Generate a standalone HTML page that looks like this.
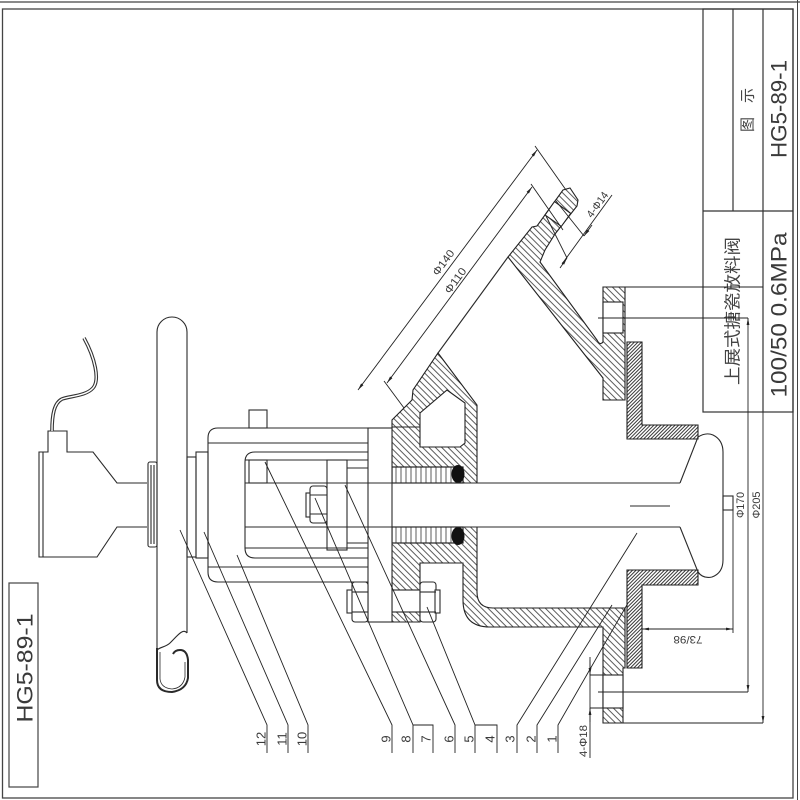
<!DOCTYPE html>
<html><head><meta charset="utf-8"><style>
html,body{margin:0;padding:0;background:#fff;}
svg{display:block}
text{font-family:"DejaVu Sans ExtraLight","Liberation Sans","Noto Sans CJK SC",sans-serif;fill:#3a3a3a}
.cjk{font-family:"Liberation Sans","Noto Sans CJK SC",sans-serif;fill:#444}
</style></head><body>
<svg width="800" height="800" viewBox="0 0 800 800" xmlns="http://www.w3.org/2000/svg">
<defs>
<pattern id="h" width="4.5" height="4.5" patternUnits="userSpaceOnUse" patternTransform="rotate(-45)"><line x1="0.5" y1="0" x2="0.5" y2="4.5" stroke="#333" stroke-width="0.8"/></pattern>
<pattern id="d" width="2.5" height="2.5" patternUnits="userSpaceOnUse" patternTransform="rotate(45)"><line x1="0.5" y1="0" x2="0.5" y2="2.5" stroke="#222" stroke-width="0.9"/></pattern>
<pattern id="p" width="5" height="5" patternUnits="userSpaceOnUse"><line x1="1" y1="0" x2="1" y2="5" stroke="#333" stroke-width="0.8"/></pattern>
<marker id="a" viewBox="0 0 10 10" refX="10" refY="5" markerWidth="8" markerHeight="8" orient="auto-start-reverse"><path d="M0,3 L10,5 L0,7 z" fill="#222"/></marker>
</defs>

<!-- frame -->
<g fill="none" stroke="#444" stroke-width="1.3">
<line x1="0" y1="2" x2="800" y2="2"/>
<rect x="2.5" y="9" width="790.5" height="789"/>
<line x1="797.5" y1="0" x2="797.5" y2="800" stroke-width="1"/>
</g>

<!-- title block -->
<g stroke="#333" stroke-width="1.2" fill="none">
<rect x="703" y="9" width="90" height="403"/>
<line x1="703" y1="211" x2="793" y2="211"/>
<line x1="733" y1="9" x2="733" y2="211"/>
<line x1="763" y1="9" x2="763" y2="412"/>
</g>
<text class="cjk" transform="translate(748,110) rotate(-90)" text-anchor="middle" dominant-baseline="central" font-size="15" textLength="44" lengthAdjust="spacing">图 示</text>
<text transform="translate(779,109) rotate(-90)" text-anchor="middle" dominant-baseline="central" font-size="22" textLength="98" lengthAdjust="spacingAndGlyphs">HG5-89-1</text>
<text class="cjk" transform="translate(733,311) rotate(-90)" text-anchor="middle" dominant-baseline="central" font-size="17" textLength="148" lengthAdjust="spacingAndGlyphs">上展式搪瓷放料阀</text>
<text transform="translate(779,315) rotate(-90)" text-anchor="middle" dominant-baseline="central" font-size="22" textLength="165" lengthAdjust="spacingAndGlyphs">100/50 0.6MPa</text>

<!-- bottom-left box -->
<rect x="9" y="583" width="29" height="204" fill="none" stroke="#444" stroke-width="1.2"/>
<text transform="translate(25,668) rotate(-90)" text-anchor="middle" dominant-baseline="central" font-size="22" textLength="109" lengthAdjust="spacingAndGlyphs">HG5-89-1</text>

<!-- hatched parts -->
<g stroke="#222" stroke-width="1.1">
<path d="M392,483 L392,420 L412,400 L413,390 L438,353 L477,405 L477,483 Z" fill="url(#h)"/>
<path d="M420,447 L420,413 L447,390 L465,403 L465,443 L460,447 Z" fill="#fff"/>
<path d="M392,527 L477,527 L477,592 Q477,608 493,608 L625,608 L625,668 L623,668 L623,723 L603,723 L603,627 L490,627 Q463,627 463,600 L463,563 L420,563 L420,622 L392,622 Z" fill="url(#h)"/>
<path d="M508,257 L532,227 L537,226 L563,190 L570,188 L578,200 L577,206 L555,234 L545,250 L540,262 L597,340 Q600,346 603,342 L603,287 L625,287 L625,400 L603,400 L603,378 Z" fill="url(#h)"/>
<path d="M545,215 L554.5,201.6 L570.7,213.4 L561.3,226.4 Z" fill="#fff"/>
<rect x="603" y="302" width="20" height="31" fill="#fff"/>
<rect x="603" y="675" width="20" height="33" fill="#fff"/>
<rect x="392" y="467" width="71" height="16" fill="#fff"/>
<rect x="392" y="467" width="71" height="16" fill="url(#p)"/>
<rect x="392" y="527" width="71" height="16" fill="#fff"/>
<rect x="392" y="527" width="71" height="16" fill="url(#p)"/>
<rect x="392" y="590" width="28" height="22" fill="#fff"/>
<path d="M627,342 L642,342 L642,425 L698,425 L698,439 L627,439 Z" fill="url(#d)"/>
<path d="M627,570 L698,570 L698,585 L642,585 L642,668 L627,668 Z" fill="url(#d)"/>
</g>
<ellipse cx="458" cy="474" rx="6.5" ry="9" fill="#111"/>
<ellipse cx="458" cy="536" rx="6.5" ry="9" fill="#111"/>
<line x1="392" y1="427" x2="420" y2="427" stroke="#222" stroke-width="1"/>

<!-- main line work -->
<g fill="none" stroke="#2a2a2a" stroke-width="1.1">
<path d="M147,483 L117,483 L93,452 L67,452 L67,431 L48,431 L48,452 L39,452 L39,557 L97,557 L117,527 L147,527"/>
<line x1="43" y1="452" x2="43" y2="557"/>
<!-- wheel rim -->
<path d="M157,650 L157,332 A15,15 0 0 1 187,332 L187,633"/>
<path d="M187,633 C183,628 178,635 170,643 C166,647 160,647 157,650"/>
<path d="M157,648 L157,680 Q157,692 172,692 Q186,690 188,678 L188,660 Q187,650 180,650 Q175,650 173,654" stroke-width="2"/>
<path d="M160,652 L160,679 Q161,688 172,689 Q183,688 185,677 L185,662" stroke-width="0.8"/>
<!-- hubs -->
<rect x="148" y="462" width="9" height="85" rx="2"/>
<line x1="151" y1="465" x2="151" y2="544"/>
<line x1="154" y1="465" x2="154" y2="544"/>
<rect x="187" y="457" width="9" height="100"/>
<rect x="196" y="452" width="12" height="106"/>
<!-- yoke -->
<path d="M368,428 L218,428 Q208,428 208,438 L208,572 Q208,582 218,582 L368,582"/>
<path d="M368,452 L255,452 Q245,452 245,462 L245,548 Q245,558 255,558 L368,558"/>
<line x1="208" y1="443" x2="368" y2="443"/>
<line x1="208" y1="567" x2="368" y2="567"/>
<line x1="245" y1="460" x2="368" y2="460"/>
<line x1="245" y1="548" x2="368" y2="548"/>
<rect x="249" y="410" width="18" height="18"/>
<rect x="249" y="460" width="18" height="23"/>
<!-- stem -->
<line x1="245" y1="483" x2="680" y2="483"/>
<line x1="245" y1="527" x2="680" y2="527"/>
<rect x="327" y="460" width="20" height="90"/>
<line x1="347" y1="468" x2="392" y2="468"/>
<line x1="347" y1="543" x2="392" y2="543"/>
<rect x="368" y="428" width="24" height="194" fill="#fff"/>
<line x1="368" y1="483" x2="392" y2="483"/>
<line x1="368" y1="527" x2="392" y2="527"/>
<!-- stem nut -->
<rect x="306" y="493" width="5" height="24" fill="#fff"/>
<rect x="310" y="486" width="17" height="37" rx="3" fill="#fff"/>
<line x1="310" y1="495" x2="327" y2="495"/>
<line x1="310" y1="514" x2="327" y2="514"/>
<!-- lower bolts -->
<rect x="347" y="590" width="6" height="23" fill="#fff"/>
<rect x="352" y="582" width="16" height="40" rx="3" fill="#fff"/>
<line x1="352" y1="592" x2="368" y2="592"/>
<line x1="352" y1="612" x2="368" y2="612"/>
<rect x="420" y="582" width="16" height="40" rx="3" fill="#fff"/>
<rect x="435" y="590" width="5" height="23" fill="#fff"/>
<line x1="420" y1="592" x2="436" y2="592"/>
<line x1="420" y1="612" x2="436" y2="612"/>
<!-- disk -->
<path d="M680,483 L698,437 Q706,432 713,435 Q723,440 723,452 L723,560 Q723,573 712,577 Q703,579 698,572 L680,527"/>
<rect x="723" y="496" width="10" height="14"/>
<line x1="630" y1="506" x2="670" y2="506"/>
<line x1="438" y1="353" x2="508" y2="257"/>
</g>
<!-- cable -->
<path d="M84,338 C95,358 100,380 93,388 C86,396 70,396 62,399 C54,403 52,415 52,431" fill="none" stroke="#333" stroke-width="3.6"/>
<path d="M84,338 C95,358 100,380 93,388 C86,396 70,396 62,399 C54,403 52,415 52,431" fill="none" stroke="#fff" stroke-width="1.4"/>

<!-- dimensions -->
<g fill="none" stroke="#222" stroke-width="0.9">
<line x1="603" y1="287" x2="763" y2="287"/>
<line x1="598" y1="318" x2="748" y2="318"/>
<line x1="598" y1="692" x2="748" y2="692"/>
<line x1="603" y1="723" x2="763" y2="723"/>
<line x1="590" y1="675" x2="623" y2="675"/>
<line x1="590" y1="708" x2="623" y2="708"/>
<path d="M748,318 L748,692" marker-start="url(#a)" marker-end="url(#a)"/>
<path d="M763,412 L763,723" marker-end="url(#a)"/>
<line x1="733" y1="510" x2="733" y2="633"/>
<path d="M642,629 L733,629" marker-start="url(#a)" marker-end="url(#a)"/>
<line x1="590" y1="657" x2="590" y2="758"/>
<path d="M590,660 L590,675" marker-end="url(#a)"/>
<path d="M590,722 L590,708" marker-end="url(#a)"/>
<path d="M358,390 L537,150" marker-start="url(#a)" marker-end="url(#a)"/>
<path d="M387,383 L532,187" marker-start="url(#a)" marker-end="url(#a)"/>
<line x1="535" y1="146" x2="566" y2="190"/>
<line x1="531" y1="184" x2="563" y2="230"/>
<line x1="384" y1="381" x2="404" y2="408"/>
<line x1="546" y1="216" x2="567" y2="258"/>
<line x1="556" y1="201" x2="584" y2="236"/>
<line x1="562" y1="264" x2="612" y2="195"/>
<path d="M560,268 L567,258" marker-end="url(#a)"/>
<path d="M592,225 L584,236" marker-end="url(#a)"/>
</g>
<g font-size="11">
<text transform="translate(741,505) rotate(-90)" text-anchor="middle" dominant-baseline="central" textLength="26" lengthAdjust="spacingAndGlyphs">Φ170</text>
<text transform="translate(757,505) rotate(-90)" text-anchor="middle" dominant-baseline="central" textLength="27" lengthAdjust="spacingAndGlyphs">Φ205</text>
<text transform="translate(688,639) rotate(180)" text-anchor="middle" dominant-baseline="central" textLength="29" lengthAdjust="spacingAndGlyphs">73/98</text>
<text transform="translate(584,741) rotate(-90)" text-anchor="middle" dominant-baseline="central" textLength="32" lengthAdjust="spacingAndGlyphs">4-Φ18</text>
<text transform="translate(444,263) rotate(-54)" text-anchor="middle" dominant-baseline="central" textLength="29" lengthAdjust="spacingAndGlyphs">Φ140</text>
<text transform="translate(456,281) rotate(-54)" text-anchor="middle" dominant-baseline="central" textLength="29" lengthAdjust="spacingAndGlyphs">Φ110</text>
<text transform="translate(598,205) rotate(-54)" text-anchor="middle" dominant-baseline="central" textLength="29" lengthAdjust="spacingAndGlyphs">4-Φ14</text>
</g>

<!-- leaders -->
<g fill="none" stroke="#222" stroke-width="0.9">
<path d="M180,530 L267,725 L267,753"/>
<path d="M204,532 L288,725 L288,753"/>
<path d="M237,555 L308,725 L308,753"/>
<path d="M265,462 L392,725 L392,753"/>
<path d="M315,498 L413,725 L413,753"/>
<path d="M413,725 L433,725 L433,753"/>
<path d="M345,485 L455,725 L455,753"/>
<path d="M427,607 L475,725 L475,753"/>
<path d="M475,725 L497,725 L497,753"/>
<path d="M637,533 L517,725 L517,753"/>
<path d="M612,605 L537,725 L537,753"/>
<path d="M628,603 L558,725 L558,753"/>
</g>
<g font-size="13">
<text transform="translate(261,739) rotate(-90)" text-anchor="middle" dominant-baseline="central">12</text>
<text transform="translate(282,739) rotate(-90)" text-anchor="middle" dominant-baseline="central">11</text>
<text transform="translate(302,739) rotate(-90)" text-anchor="middle" dominant-baseline="central">10</text>
<text transform="translate(386,739) rotate(-90)" text-anchor="middle" dominant-baseline="central">9</text>
<text transform="translate(406,739) rotate(-90)" text-anchor="middle" dominant-baseline="central">8</text>
<text transform="translate(426,739) rotate(-90)" text-anchor="middle" dominant-baseline="central">7</text>
<text transform="translate(449,739) rotate(-90)" text-anchor="middle" dominant-baseline="central">6</text>
<text transform="translate(469,739) rotate(-90)" text-anchor="middle" dominant-baseline="central">5</text>
<text transform="translate(490,739) rotate(-90)" text-anchor="middle" dominant-baseline="central">4</text>
<text transform="translate(510,739) rotate(-90)" text-anchor="middle" dominant-baseline="central">3</text>
<text transform="translate(531,739) rotate(-90)" text-anchor="middle" dominant-baseline="central">2</text>
<text transform="translate(552,739) rotate(-90)" text-anchor="middle" dominant-baseline="central">1</text>
</g>
</svg>
</body></html>
